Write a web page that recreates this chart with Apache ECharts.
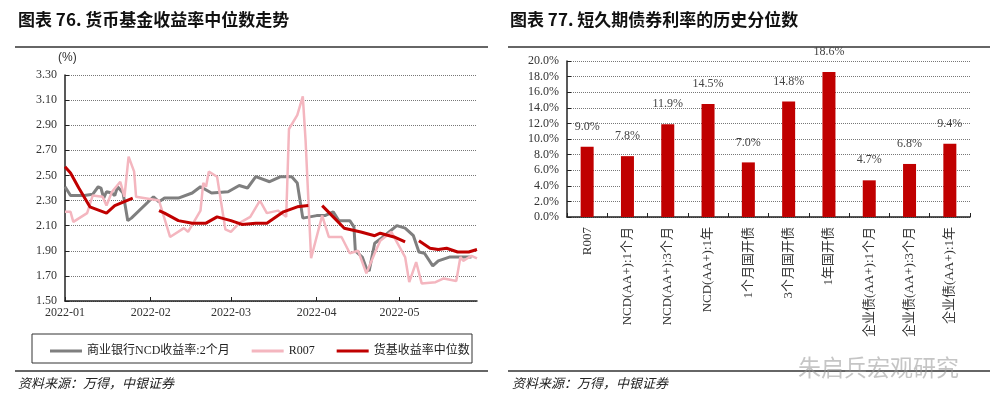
<!DOCTYPE html>
<html><head><meta charset="utf-8">
<script src="https://cdn.jsdelivr.net/npm/echarts@6/dist/echarts.min.js"></script>
<style>html,body{margin:0;padding:0;background:#fff}#c{width:1000px;height:417px}</style>
</head><body><div id="c"></div>
<script>
// Left chart: day offsets from 2022-01-01 and values
const ncdDays = [3,5,10,13,15,16,17,18,20,21,22,24,25.7,27,35,37,39,44,49,52,56,62,66,69,72,77,81,85,87,89,94,97,100,102,106,107.5,108,110.5,112,113,115,118,123,126,129,131,133,136,138,142,146,150];
const ncdVals = [2.41,2.34,2.34,2.35,2.41,2.40,2.32,2.37,2.36,2.34,2.41,2.36,2.14,2.16,2.33,2.29,2.32,2.32,2.36,2.41,2.36,2.37,2.42,2.40,2.49,2.45,2.49,2.49,2.44,2.16,2.18,2.18,2.21,2.14,2.14,2.09,1.90,1.85,1.76,1.74,1.96,2.01,2.10,2.08,2.02,1.89,1.88,1.78,1.82,1.85,1.85,1.85];
const r007Days = [3,5,6,11,13,16.6,18,20,23,24.5,26,28,28.7,37,41,46,47.5,52,53,54,55,58,61,63,66,70,73.5,76,80,83,84,87,89,90,92,96,98.4,103,106,109,112,115,117,121,126,127.5,130,132,137,140,144.5,146,147,150,152];
const r007Vals = [2.21,2.21,2.13,2.20,2.34,2.33,2.26,2.37,2.45,2.33,2.65,2.53,2.33,2.30,2.01,2.08,2.05,2.22,2.44,2.41,2.53,2.49,2.07,2.05,2.12,2.17,2.30,2.20,2.22,2.17,2.87,2.98,3.13,2.78,1.84,2.18,2.01,2.01,1.88,1.90,1.72,1.88,1.98,2.05,1.85,1.65,1.81,1.64,1.65,1.68,1.66,1.85,1.82,1.86,1.84];
const fundDays = [3,5,8,12,18,21,27.5,null,37,39,44,49,54,58,63,67,72,76,82,87,91,null,96,100,104,110,115,117,122,126,null,131,135,138,141,145,149,152];
const fundVals = [2.57,2.52,2.40,2.25,2.20,2.26,2.32,null,2.22,2.20,2.14,2.12,2.12,2.17,2.14,2.11,2.12,2.12,2.21,2.25,2.26,null,2.26,2.17,2.08,2.05,2.02,2.04,2.01,1.97,null,1.98,1.92,1.91,1.92,1.89,1.89,1.91];
const monthTickDays = [3,34,63,94,124];
const monthTickLabels = ['2022-01','2022-02','2022-03','2022-04','2022-05'];
// Right chart
const barCats = ['R007','NCD(AA+):1个月','NCD(AA+):3个月','NCD(AA+):1年','1个月国开债','3个月国开债','1年国开债','企业债(AA+):1个月','企业债(AA+):3个月','企业债(AA+):1年'];
const barVals = [9.0,7.8,11.9,14.5,7.0,14.8,18.6,4.7,6.8,9.4];

const pts = (ds, vs) => ds.map((d,i) => d===null ? '-' : [d, vs[i]]);
const serif = '"Liberation Serif","Noto Sans CJK SC",serif';
const cjk = '"Noto Sans CJK SC",sans-serif';

const chart = echarts.init(document.getElementById('c'));
chart.setOption({
  animation:false,
  backgroundColor:'#fff',
  graphic:[
    {type:'text',left:18,top:11,style:{text:'图表 76. 货币基金收益率中位数走势',font:'bold 17px '+cjk,fill:'#111'}},
    {type:'text',left:510,top:11,style:{text:'图表 77. 短久期债券利率的历史分位数',font:'bold 17px '+cjk,fill:'#111'}},
    {type:'line',shape:{x1:15,y1:47,x2:488,y2:47},style:{stroke:'#333',lineWidth:1.5}},
    {type:'line',shape:{x1:508,y1:47,x2:990,y2:47},style:{stroke:'#333',lineWidth:1.5}},
    {type:'line',shape:{x1:15,y1:371,x2:488,y2:371},style:{stroke:'#333',lineWidth:1.5}},
    {type:'line',shape:{x1:508,y1:371,x2:990,y2:371},style:{stroke:'#333',lineWidth:1.5}},
    {type:'text',left:58,top:52,style:{text:'(%)',font:'12px "Liberation Sans",sans-serif',fill:'#333'}},
    {type:'text',left:18,top:377,style:{text:'资料来源：万得，中银证券',font:'italic 13px '+cjk,fill:'#222'}},
    {type:'text',left:512,top:377,style:{text:'资料来源：万得，中银证券',font:'italic 13px '+cjk,fill:'#222'}},
    {type:'rect',shape:{x:32,y:334,width:440,height:29},style:{fill:'none',stroke:'#333',lineWidth:1}},
    {type:'text',left:798,top:356,style:{text:'朱启兵宏观研究',font:'23px '+cjk,fill:'rgba(150,150,150,0.55)'}}
  ],
  legend:{left:45,top:340,itemWidth:32,itemHeight:3,itemGap:22,icon:'rect',
    textStyle:{fontFamily:serif,fontSize:12,color:'#222'},
    data:['商业银行NCD收益率:2个月','R007','货基收益率中位数']},
  grid:[{left:65,top:75,width:412,height:226},{left:567,top:61,width:403,height:156}],
  xAxis:[
    {type:'value',gridIndex:0,min:3,max:152,
     axisLine:{lineStyle:{color:'#222',width:1.5}},
     axisTick:{show:true,customValues:monthTickDays,lineStyle:{color:'#222'},inside:true,length:4},
     axisLabel:{customValues:monthTickDays,formatter:v=>monthTickLabels[monthTickDays.indexOf(v)]||'',fontFamily:serif,fontSize:12,color:'#333',margin:6},
     splitLine:{show:false}},
    {type:'category',gridIndex:1,data:barCats,
     axisLine:{lineStyle:{color:'#222',width:1.5}},
     axisTick:{show:true,inside:true,length:4,lineStyle:{color:'#222'}},
     axisLabel:{rotate:90,interval:0,fontFamily:serif,fontSize:13,color:'#333',margin:10}}
  ],
  yAxis:[
    {type:'value',gridIndex:0,min:1.5,max:3.3,interval:0.2,
     axisLine:{show:true,lineStyle:{color:'#222',width:1.5}},
     axisTick:{show:true,inside:true,length:4,lineStyle:{color:'#222'}},
     axisLabel:{formatter:v=>v.toFixed(2),fontFamily:serif,fontSize:12,color:'#333'},
     splitLine:{lineStyle:{color:'#777',type:[1,1]}}},
    {type:'value',gridIndex:1,min:0,max:20,interval:2,
     axisLine:{show:true,lineStyle:{color:'#222',width:1.5}},
     axisTick:{show:true,inside:true,length:4,lineStyle:{color:'#222'}},
     axisLabel:{formatter:v=>v.toFixed(1)+'%',fontFamily:serif,fontSize:12,color:'#333'},
     splitLine:{lineStyle:{color:'#777',type:[1,1]}}}
  ],
  series:[
    {name:'商业银行NCD收益率:2个月',type:'line',xAxisIndex:0,yAxisIndex:0,data:pts(ncdDays,ncdVals),symbol:'none',lineStyle:{color:'#7f7f7f',width:3},itemStyle:{color:'#7f7f7f'}},
    {name:'R007',type:'line',xAxisIndex:0,yAxisIndex:0,data:pts(r007Days,r007Vals),symbol:'none',lineStyle:{color:'#f4b6bf',width:2.5},itemStyle:{color:'#f4b6bf'}},
    {name:'货基收益率中位数',type:'line',xAxisIndex:0,yAxisIndex:0,data:pts(fundDays,fundVals),symbol:'none',connectNulls:false,lineStyle:{color:'#c00000',width:3},itemStyle:{color:'#c00000'}},
    {type:'bar',xAxisIndex:1,yAxisIndex:1,data:barVals,barWidth:13,itemStyle:{color:'#c00000'},
     label:{show:true,position:'top',distance:14,formatter:p=>p.value.toFixed(1)+'%',fontFamily:serif,fontSize:12,color:'#444'}}
  ]
});
</script></body></html>
